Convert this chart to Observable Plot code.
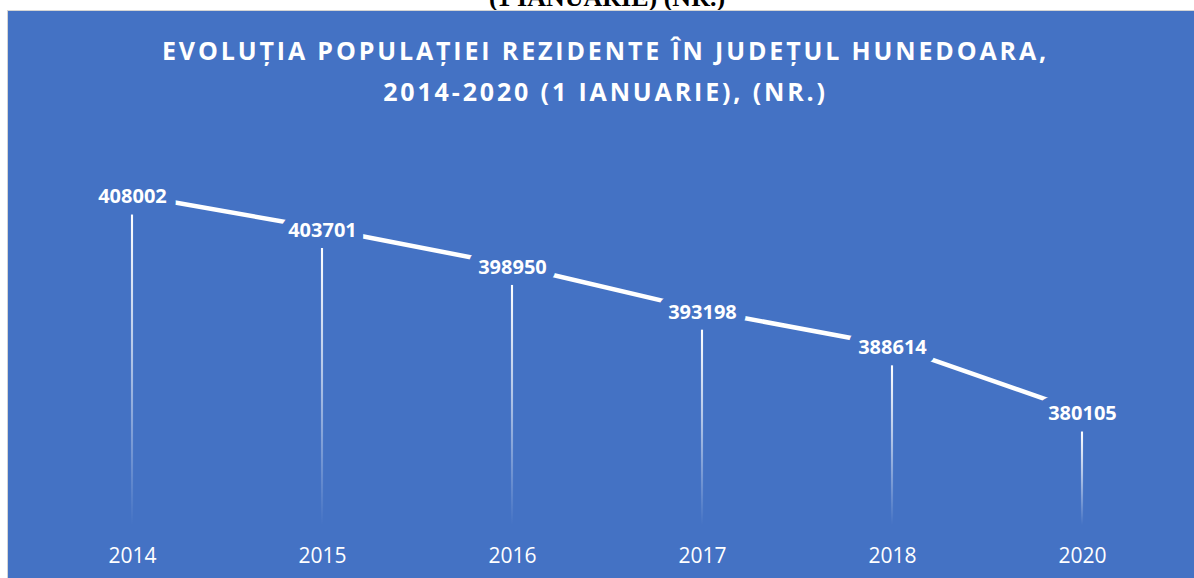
<!DOCTYPE html>
<html>
<head>
<meta charset="utf-8">
<script src="https://cdn.jsdelivr.net/npm/d3@7"></script>
<script src="https://cdn.jsdelivr.net/npm/@observablehq/plot@0.6"></script>
<style>
  html, body { margin: 0; padding: 0; background: #ffffff; }
  #page { position: relative; width: 1194px; height: 578px; overflow: hidden; background: #ffffff; }
  #topcut { position: absolute; left: 0; width: 1214px; top: -15px; text-align: center;
    font: bold 26px "Liberation Serif", "Times New Roman", serif; line-height: 26px; color: #000; white-space: nowrap; }
  #panel { position: absolute; left: 7px; top: 10px; width: 1200px; height: 600px; background: #4472C4;
    border-top: 1px solid #d4d4d4; border-left: 1px solid #d4d4d4; }
  #title { position: absolute; left: 0; width: 1211px; top: 30px; text-align: center; color: #ffffff;
    font: bold 25px "Open Sans", sans-serif; line-height: 41px; white-space: nowrap; }
  #chart { position: absolute; left: 0; top: 0; }
</style>
</head>
<body>
<div id="page">
  <div id="topcut">(1 IANUARIE) (NR.)</div>
  <div id="panel"></div>
  <div id="title"><div id="t1"></div><div id="t2"></div></div>
  <div id="chart"></div>
</div>
<script>
const titleLines = ["EVOLUȚIA POPULAȚIEI REZIDENTE ÎN JUDEȚUL HUNEDOARA,", "2014-2020 (1 IANUARIE), (NR.)"];
const years = ["2014", "2015", "2016", "2017", "2018", "2020"];
const population = [408002, 403701, 398950, 393198, 388614, 380105];
const yDomain = [365000, 410000];

const data = years.map((year, i) => ({year, value: population[i]}));

// title with tracking
document.getElementById("t1").textContent = titleLines[0];
document.getElementById("t2").textContent = titleLines[1];
(function () {
  const ctx = document.createElement("canvas").getContext("2d");
  ctx.font = 'bold 25px "Open Sans"';
  const natural = ctx.measureText(titleLines[0]).width;
  const target = 887;
  const ls = (target - natural) / titleLines[0].length;
  document.getElementById("title").style.letterSpacing = ls + "px";
})();

const svgNS = "http://www.w3.org/2000/svg";
function gradientDefs() {
  const defs = document.createElementNS(svgNS, "defs");
  const g = document.createElementNS(svgNS, "linearGradient");
  g.setAttribute("id", "fade");
  g.setAttribute("x1", "0"); g.setAttribute("y1", "0");
  g.setAttribute("x2", "0"); g.setAttribute("y2", "1");
  [[0, 1], [0.45, 0.6], [1, 0]].forEach(([o, a]) => {
    const s = document.createElementNS(svgNS, "stop");
    s.setAttribute("offset", o);
    s.setAttribute("stop-color", "#ffffff");
    s.setAttribute("stop-opacity", a);
    g.appendChild(s);
  });
  defs.appendChild(g);
  return defs;
}

const blue = "#4472C4";
const chart = Plot.plot({
  width: 1194,
  height: 578,
  marginLeft: 35.8,
  marginRight: 15.8,
  marginTop: 179,
  marginBottom: 49,
  style: {background: "transparent", overflow: "visible", fontFamily: "Open Sans"},
  x: {type: "band", domain: years, padding: 0, label: null},
  y: {domain: yDomain, axis: null},
  marks: [
    gradientDefs,
    Plot.barY(data, {
      x: "year", y1: () => yDomain[0], y2: "value",
      fill: "url(#fade)",
      insetTop: 20, insetBottom: 4, insetLeft: 93.95, insetRight: 93.95
    }),
    Plot.line(data, {x: "year", y: "value", stroke: "#ffffff", strokeWidth: 4.5, strokeLinecap: "butt"}),
    Plot.text(data, {
      x: "year", y: "value", text: d => String(d.value),
      fill: "#ffffff", stroke: blue, strokeWidth: 19, strokeLinejoin: "round", paintOrder: "stroke",
      fontSize: 20, fontWeight: "bold", fontFamily: "Open Sans", dy: 2
    }),
    Plot.axisX({tickSize: 0, tickPadding: 19, fontSize: 21, fontFamily: "Open Sans", color: "#ffffff", label: null})
  ]
});
document.getElementById("chart").appendChild(chart);
</script>
</body>
</html>
